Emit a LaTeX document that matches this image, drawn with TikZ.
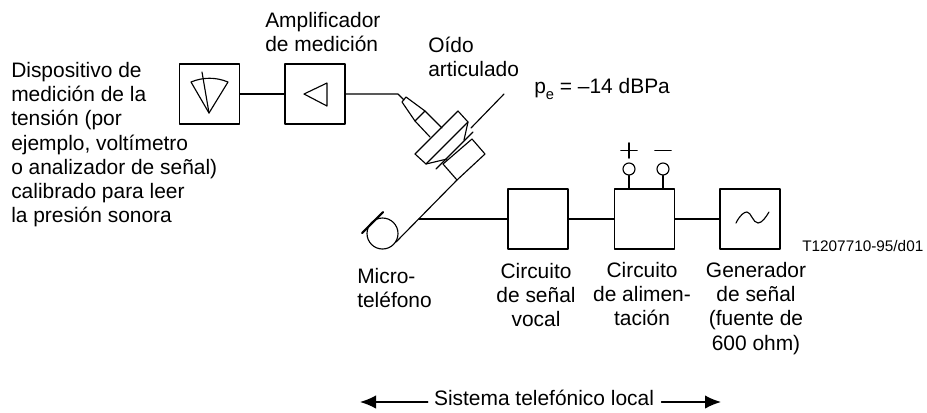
\documentclass[tikz,border=0pt]{standalone}
\usepackage{fontspec}
\setmainfont{Liberation Sans}
\usetikzlibrary{arrows.meta}
\begin{document}
\begin{tikzpicture}[x=0.75pt,y=-0.75pt,line cap=round,line join=round,
  lbl/.style={font=\fontsize{15.7pt}{18.15pt}\selectfont,align=left,inner sep=0pt},
  lblc/.style={lbl,align=center},
  block/.style={draw,line width=1pt,minimum size=45pt,inner sep=0pt},
  wire/.style={line width=1pt},
  thin wire/.style={line width=0.85pt},
  term/.style={circle,draw,line width=0.85pt,minimum size=9pt,inner sep=0pt}]
\useasboundingbox (0,0) rectangle (927,412);
% blocks
\node[block] (meter) at (209.5,94) {};
\node[block] (amp) at (315,94) {};
\node[block] (voice) at (538,219) {};
\node[block] (feed) at (644.5,219) {};
\node[block] (gen) at (750,219) {};
\draw[wire] (meter) -- (amp);
\draw[wire] (voice) -- (feed);
\draw[wire] (feed) -- (gen);
% meter and amplifier symbols
\draw[thin wire] (209,113) -- (191,82) .. controls (203,77) and (216,77) .. (228,82) -- cycle;
\draw[thin wire] (202,72) -- (209,113);
\draw[thin wire] (327,83) -- (304,94) -- (327,106) -- cycle;
% generator symbol
\draw[thin wire] (736,223) .. controls (740,215) and (744,212) .. (747,212) .. controls (751,212) and (753,223) .. (758,223) .. controls (762,223) and (766,217) .. (769,212);
% terminals
\node[term] (tplus) at (629,169) {};
\node[term] (tminus) at (663,169) {};
\draw[wire] (tplus) -- (tplus |- feed.north);
\draw[wire] (tminus) -- (tminus |- feed.north);
\draw[line width=1.2pt] (621,150.5) -- (637,150.5) (629,143) -- (629,158);
\draw[line width=1.2pt] (655,150.5) -- (671,150.5);
% handset
\coordinate (hjoin) at (419,219);
\draw[wire] (hjoin) -- (voice);
\draw[thin wire] (396,242) -- (457,180);
\draw[thin wire] (457,180) -- (485,154) -- (472,139) -- (443,164) -- cycle;
\draw[thin wire] (464,140) -- (468,122) -- (458,111) -- (415,154) -- (426,164) -- (447,159);
\draw[thin wire] (426,164) -- (468,122);
\draw[thin wire] (436,169) -- (473,132);
\draw[thin wire] (471,128) -- (504,94);
% measuring microphone
\draw[thin wire] (430,137) -- (415,121) -- (402,102) -- (406,97) -- (425,111) -- (442,128);
\draw[thin wire] (415,121) -- (425,111);
\coordinate (mictip) at (404,100);
\draw[thin wire] (amp) -- (398,94) -- (mictip);
% receiver
\draw[thin wire] (382.5,233.5) circle[radius=15.5];
\draw[line width=1.6pt] (362,233) -- (383,212);
% labels
\node[lbl,anchor=north west] (meterlbl) at (11,62) {Dispositivo de\\medición de la\\tensión (por\\ejemplo, voltímetro\\o analizador de señal)\\calibrado para leer\\la presión sonora};
\node[lbl,anchor=north west] (amplbl) at (265,12) {Amplificador\\de medición};
\node[lbl,anchor=north west] (earlbl) at (428,36.5) {Oído\\articulado};
\node[lbl,anchor=base west] (pelbl) at (534,93) {p\raisebox{-4.5pt}{\fontsize{11pt}{11pt}\selectfont e} = –14 dBPa};
\node[lbl,anchor=base west,font=\fontsize{11.5pt}{14pt}\selectfont] (reflbl) at (802,251) {T1207710-95/d01};
\node[lbl,anchor=north west] (handlbl) at (357,268) {Micro-\\teléfono};
\node[lblc,anchor=north] (voicelbl) at (536,263) {Circuito\\de señal\\vocal};
\node[lblc,anchor=north] (feedlbl) at (642,262) {Circuito\\de alimen-\\tación};
\node[lblc,anchor=north] (genlbl) at (756,262) {Generador\\de señal\\(fuente de\\600 ohm)};
\node[lbl,anchor=base] (syslbl) at (544,405) {Sistema telefónico local};
\coordinate (sysl) at (360,402);
\coordinate (sysr) at (721,402);
\draw[wire,-{Latex[length=12pt,width=10pt]}] ([xshift=-4.5pt]syslbl.west |- sysl) -- (sysl);
\draw[wire,-{Latex[length=12pt,width=10pt]}] ([xshift=5.5pt]syslbl.east |- sysr) -- (sysr);
\end{tikzpicture}
\end{document}
